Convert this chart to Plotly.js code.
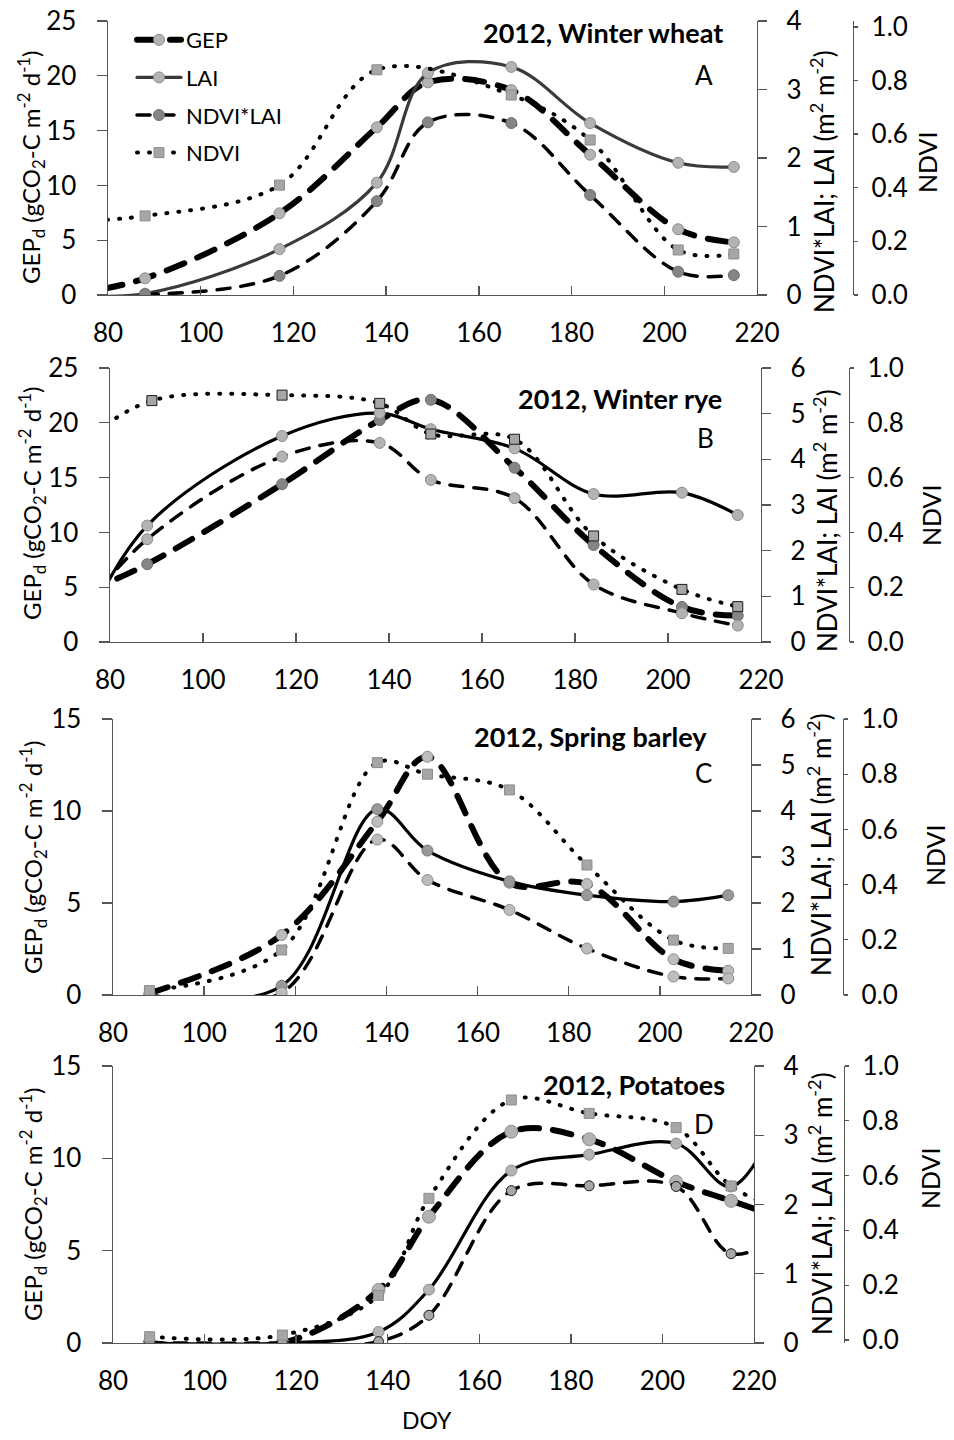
<!DOCTYPE html>
<html><head><meta charset="utf-8">
<script src="https://cdn.plot.ly/plotly-3.0.1.min.js"></script>
<style>html,body{margin:0;padding:0;background:#fff;} #chart{width:954px;height:1440px;}</style>
</head><body><div id="chart"></div>
<script>
// ---------------- DATA ----------------
// Panel A: 2012, Winter wheat  (first point at DOY 72 lies left of the axis and only shapes the line end)
const doyA     = [72, 88, 117, 138, 149, 167, 184, 203, 215];
const gepA     = [0.1, 1.52, 7.45, 15.3, 19.4, 18.7, 12.8, 6.0, 4.8];
const laiA     = [0.0, 0.02, 0.67, 1.64, 3.24, 3.33, 2.51, 1.93, 1.87];
const nlDoyA   = [88, 117, 138, 149, 167, 184, 203, 215];
const nlA      = [0.01, 0.28, 1.37, 2.52, 2.51, 1.46, 0.34, 0.29];
const ndviDoyA = [72, 88, 117, 138, 167, 184, 203, 215];
const ndviA    = [0.275, 0.295, 0.41, 0.84, 0.746, 0.578, 0.168, 0.153];

// Panel B: 2012, Winter rye (DOY 75 lies left of the axis)
const doyB     = [75, 88, 117, 138, 149, 167, 184, 203, 215];
const gepB     = [4.6, 7.1, 14.4, 20.25, 22.1, 15.9, 8.85, 3.2, 2.4];
const laiB     = [0.4, 2.55, 4.51, 5.01, 4.66, 4.24, 3.24, 3.27, 2.78];
const nlB      = [0.8, 2.25, 4.06, 4.36, 3.55, 3.15, 1.26, 0.63, 0.36];
const ndviDoyB = [75, 89, 117, 138, 149, 167, 184, 203, 215];
const ndviB    = [0.74, 0.881, 0.901, 0.871, 0.759, 0.740, 0.387, 0.192, 0.129];

// Panel C: 2012, Spring barley
const doyC  = [88, 117, 138, 149, 167, 184, 203, 215];
const gepC  = [0.1, 3.26, 9.42, 12.95, 6.1, 6.03, 1.94, 1.32];
const laiC  = [0.0, 0.2, 4.04, 3.14, 2.47, 2.17, 2.03, 2.17];
const nlC   = [0.0, 0.05, 3.38, 2.5, 1.85, 1.01, 0.40, 0.36];
const ndviC = [0.016, 0.163, 0.842, 0.80, 0.743, 0.471, 0.199, 0.169];

// Panel D: 2012, Potatoes (DOY 227 lies right of the axis)
const doyD  = [88, 117, 138, 149, 167, 184, 203, 215, 227];
const gepD  = [0, 0, 2.87, 6.84, 11.44, 11.03, 8.73, 7.7, 6.7];
const laiD  = [0, 0, 0.16, 0.77, 2.49, 2.72, 2.88, 2.26, 3.5];
const nlD   = [0, 0, 0.02, 0.40, 2.2, 2.27, 2.26, 1.29, 1.6];
const ndviD = [0.012, 0.018, 0.163, 0.517, 0.876, 0.827, 0.775, 0.562, 0.47];

const seriesNames = ['GEP', 'LAI', 'NDVI*LAI', 'NDVI'];
const panelTitles = ['2012, Winter wheat', '2012, Winter rye', '2012, Spring barley', '2012, Potatoes'];
const panelLetters = ['A', 'B', 'C', 'D'];
const xTicks = [80, 100, 120, 140, 160, 180, 200, 220];

// ---------------- LAYOUT / STYLE ----------------
const W = 954, H = 1440;
const FONT = 'Lato, "Open Sans", sans-serif';
const fx = p => p / W, fy = p => 1 - p / H;

const panels = [
  {xd:[108,757], yd:[21,295],   gep:[0,25], gdt:5, lai:[0,4], ndvi:[0,1.022], npos:853,
   gepT:[31,167], laiT:[822,182], ndviT:[927,162], title:[725,32], letter:[704,75]},
  {xd:[110,761], yd:[368,642],  gep:[0,25], gdt:5, lai:[0,6], ndvi:[0,1], npos:849,
   gepT:[32,503], laiT:[826,521], ndviT:[931,515], title:[724,398], letter:[705,438]},
  {xd:[113,751], yd:[719,995],  gep:[0,15], gdt:5, lai:[0,6], ndvi:[0,1], npos:843,
   gepT:[33,857], laiT:[819,845], ndviT:[935,855], title:[709,737], letter:[703,773]},
  {xd:[113,754], yd:[1066,1343],gep:[0,15], gdt:5, lai:[0,4], ndvi:[-0.011,1], npos:844,
   gepT:[33,1204], laiT:[820,1204], ndviT:[930,1178], title:[727,1084], letter:[704,1124]}
];

const LIGHT = '#b3b3b3', DARK = '#858585';
const lineSty = {
  gep:  {width:6,   dash:'19px,14px'},
  lai:  {width:3.2, dash:'solid'},
  nl:   {width:3.5, dash:'13px,11px'},
  ndvi: {width:4,   dash:'1px,11px'}
};

// per-panel marker styles [gep, lai, nl, ndvi]
const mk = [
  [{c:LIGHT,l:'#8c8c8c',s:11},{c:LIGHT,l:'#8c8c8c',s:11},{c:DARK,l:'#6e6e6e',s:11},{c:'#a6a6a6',l:'#8c8c8c',s:10,sq:1}],
  [{c:DARK,l:'#6e6e6e',s:11},{c:LIGHT,l:'#8c8c8c',s:11},{c:LIGHT,l:'#8c8c8c',s:11},{c:'#a6a6a6',l:'#1a1a1a',s:10,sq:1}],
  [{c:'#bdbdbd',l:'#8c8c8c',s:11},{c:'#999999',l:'#777777',s:11},{c:'#bdbdbd',l:'#8c8c8c',s:11},{c:'#a6a6a6',l:'#8c8c8c',s:10,sq:1}],
  [{c:LIGHT,l:'#8c8c8c',s:13},{c:LIGHT,l:'#8c8c8c',s:11},{c:'#a6a6a6',l:'#1a1a1a',s:10},{c:'#a6a6a6',l:'#8c8c8c',s:10,sq:1}]
];

const data5 = [
  // [gepX, gepY, laiX, laiY, nlX, nlY, ndviX, ndviY]
  [doyA, gepA, doyA, laiA, nlDoyA, nlA, ndviDoyA, ndviA],
  [doyB, gepB, doyB, laiB, doyB, nlB, ndviDoyB, ndviB],
  [doyC, gepC, doyC, laiC, doyC, nlC, doyC, ndviC],
  [doyD, gepD, doyD, laiD, doyD, nlD, doyD, ndviD]
];

const traces = [];
const layout = {
  width: W, height: H, margin:{l:0,r:0,t:0,b:0},
  paper_bgcolor:'#fff', plot_bgcolor:'rgba(0,0,0,0)',
  font:{family:FONT, color:'#000', size:22},
  showlegend:true,
  legend:{x:fx(132), y:fy(19), xanchor:'left', yanchor:'top', bgcolor:'rgba(0,0,0,0)',
          font:{family:FONT, size:22, color:'#000'}, traceorder:'grouped', tracegroupgap:6,
          itemwidth:44, itemsizing:'trace'},
  annotations:[]
};

panels.forEach((p, i) => {
  const xn = i === 0 ? 'x' : 'x' + (i + 1);
  const yg = 3*i + 1, yl = 3*i + 2, yn = 3*i + 3;
  const yName = k => k === 1 ? 'y' : 'y' + k;
  const axKey = k => k === 1 ? 'yaxis' : 'yaxis' + k;
  const xKey = i === 0 ? 'xaxis' : 'xaxis' + (i + 1);
  const tickfont = {family:FONT, size:26, color:'#000'};
  layout[xKey] = {domain:[fx(p.xd[0]), fx(p.xd[1])], range:[80,220], tickvals:xTicks, ticktext:xTicks.map(String),
    ticks:'inside', ticklen:9, tickwidth:1.3, tickcolor:'#555', showline:true, linecolor:'#555', linewidth:1.4,
    showgrid:false, zeroline:false, anchor:yName(yg), tickfont, ticklabelstandoff:14, fixedrange:true};
  layout[axKey(yg)] = {domain:[fy(p.yd[1]), fy(p.yd[0])], range:p.gep, dtick:p.gdt, tick0:0,
    ticks:'outside', ticklen:10, tickwidth:1.3, tickcolor:'#555', showline:true, linecolor:'#555', linewidth:1.4,
    showgrid:false, zeroline:false, anchor:xn, side:'left', tickfont, ticklabelstandoff:15, fixedrange:true};
  layout[axKey(yl)] = {overlaying:yName(yg), range:p.lai, dtick:1, tick0:0, side:'right', anchor:xn,
    ticks:'outside', ticklen:9, tickwidth:1.3, tickcolor:'#555', showline:true, linecolor:'#555', linewidth:1.4,
    showgrid:false, zeroline:false, tickfont, ticklabelstandoff:14, fixedrange:true};
  layout[axKey(yn)] = {overlaying:yName(yg), range:p.ndvi, dtick:0.2, tick0:0, tickformat:'.1f', side:'right',
    anchor:'free', position:fx(p.npos),
    ticks:'outside', ticklen:4, tickwidth:1.3, tickcolor:'#555', showline:true, linecolor:'#555', linewidth:1.4,
    showgrid:false, zeroline:false, tickfont, ticklabelstandoff:8, fixedrange:true};

  const d = data5[i];
  const keys = ['gep','lai','nl','ndvi'];
  const yaxes = [yName(yg), yName(yl), yName(yl), yName(yn)];
  keys.forEach((k, j) => {
    const m = mk[i][j];
    traces.push({
      type:'scatter', mode:'lines+markers', x:d[2*j], y:d[2*j+1], xaxis:xn, yaxis:yaxes[j],
      name:seriesNames[j], legendgroup:k, showlegend:i === 0,
      line:{shape:'spline', smoothing:1, color:(i===0 && k==='lai') ? '#3a3a3a' : '#000',
            width:lineSty[k].width, dash:lineSty[k].dash},
      marker:{symbol:m.sq ? 'square' : 'circle', size:m.s, color:m.c, line:{color:m.l, width:1}},
      cliponaxis:true, hoverinfo:'skip'
    });
  });

  layout.annotations.push(
    {xref:'paper', yref:'paper', x:fx(p.gepT[0]), y:fy(p.gepT[1]), xanchor:'center', yanchor:'middle', textangle:-90,
     showarrow:false, font:{family:FONT, size:24, color:'#000'},
     text:'GEP<sub>d</sub> (gCO<sub>2</sub>-C m<sup>-2</sup> d<sup>-1</sup>)'},
    {xref:'paper', yref:'paper', x:fx(p.laiT[0]), y:fy(p.laiT[1]), xanchor:'center', yanchor:'middle', textangle:-90,
     showarrow:false, font:{family:FONT, size:26, color:'#000'},
     text:'NDVI*LAI; LAI (m<sup>2</sup> m<sup>-2</sup>)'},
    {xref:'paper', yref:'paper', x:fx(p.ndviT[0]), y:fy(p.ndviT[1]), xanchor:'center', yanchor:'middle', textangle:-90,
     showarrow:false, font:{family:FONT, size:25, color:'#000'}, text:'NDVI'},
    {xref:'paper', yref:'paper', x:fx(p.title[0]), y:fy(p.title[1]), xanchor:'right', yanchor:'middle',
     showarrow:false, font:{family:FONT, size:27, color:'#000'}, text:'<b>' + panelTitles[i] + '</b>'},
    {xref:'paper', yref:'paper', x:fx(p.letter[0]), y:fy(p.letter[1]), xanchor:'center', yanchor:'middle',
     showarrow:false, font:{family:FONT, size:26, color:'#000'}, text:panelLetters[i]}
  );
});

layout.annotations.push({xref:'paper', yref:'paper', x:fx(427), y:fy(1420), xanchor:'center', yanchor:'middle',
  showarrow:false, font:{family:FONT, size:23, color:'#000'}, text:'DOY'});

Plotly.newPlot('chart', traces, layout, {staticPlot:true, displayModeBar:false}).then(gd => {
  gd.querySelectorAll('path.js-line').forEach(p => {
    p.style.strokeLinecap = 'round';
    p.style.strokeLinejoin = 'round';
  });
});
</script>
</body></html>
